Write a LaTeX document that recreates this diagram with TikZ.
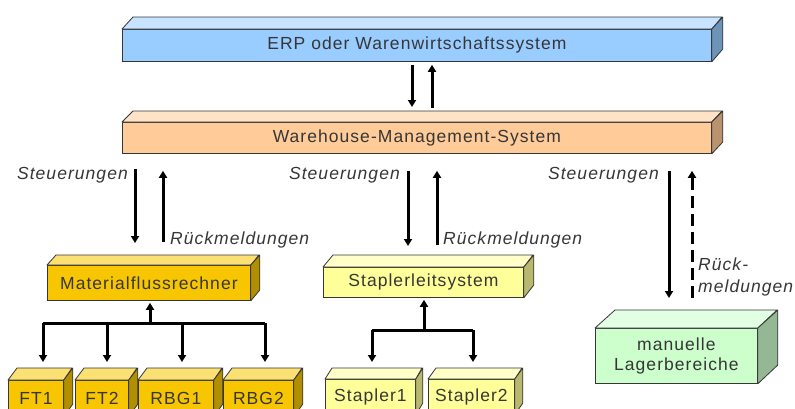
\documentclass[tikz,border=0pt]{standalone}
\usepackage{fontspec}
\setmainfont{Liberation Sans}[LetterSpace=6]
\usetikzlibrary{arrows.meta,calc}

\definecolor{erpblue}{HTML}{99CCFF}
\definecolor{wmsorange}{HTML}{FFCC99}
\definecolor{mfrgold}{HTML}{F7C600}
\definecolor{staplyellow}{HTML}{FFFF99}
\definecolor{mangreen}{HTML}{CCFFCC}
\definecolor{inkgray}{HTML}{363636}

% 3D block: name, front top-left corner, width, height, depth x, depth y, colour, text
\newcommand\blockbox[8]{%
  \node[face, fill=#7, minimum width=#3pt, minimum height=#4pt, anchor=north west] (#1) at (#2) {#8};
  \filldraw[edge, fill=#7!55!white] (#1.north west) -- ++(#5,-#6) -- ++(#3,0) -- (#1.north east) -- cycle;
  \filldraw[edge, fill=#7!72!black] (#1.north east) -- ++(#5,-#6) -- ++(0,#4) -- (#1.south east) -- cycle;
}

\begin{document}
\begin{tikzpicture}[x=1pt,y=-1pt,
  face/.style={draw=inkgray, line width=0.8pt, inner sep=0pt, text=inkgray,
    font=\fontsize{17.5}{20}\selectfont, align=center},
  edge/.style={draw=inkgray, line width=0.8pt, line join=round},
  arr/.style={line width=3pt, -{Triangle[length=7pt,width=8pt]}},
  bus/.style={line width=3pt},
  lbl/.style={font=\fontsize{17.5}{22}\selectfont\itshape, text=inkgray, inner sep=0pt}
]
\useasboundingbox (0,0) rectangle (795,408);
\clip (0,0) rectangle (795,408);

% upper system layers
\blockbox{erp}{122,29}{589}{32}{11}{12}{erpblue}{ERP oder Warenwirtschaftssystem}
\blockbox{wms}{122,122}{589}{31}{11}{11}{wmsorange}{Warehouse-Management-System}

% second level
\blockbox{mfr}{47,265}{203}{35}{9}{10}{mfrgold}{Materialflussrechner}
\blockbox{sls}{323,267}{200}{30}{10}{12}{staplyellow}{Staplerleitsystem}
\blockbox{man}{595,328}{162}{55}{20}{18}{mangreen}{manuelle\\Lagerbereiche}

% conveyors and storage machines
\blockbox{ft1}{8,380}{55}{36}{9}{12}{mfrgold}{FT1}
\blockbox{ft2}{75,380}{53}{36}{9}{12}{mfrgold}{FT2}
\blockbox{rbg1}{138,380}{75}{36}{9}{12}{mfrgold}{RBG1}
\blockbox{rbg2}{223,380}{70}{36}{9}{12}{mfrgold}{RBG2}

% forklifts
\blockbox{st1}{325,379}{90}{35}{7}{11}{staplyellow}{Stapler1}
\blockbox{st2}{428,379}{86}{35}{8}{11}{staplyellow}{Stapler2}

% ERP <-> WMS
\draw[arr, shorten <=3pt, shorten >=15pt] (412,0 |- erp.south) -- (412,0 |- wms.north);
\draw[arr, shorten <=14pt, shorten >=3pt] (432,0 |- wms.north) -- (432,0 |- erp.south);

% WMS -> Materialflussrechner
\draw[arr, shorten <=15pt, shorten >=22pt] (135,0 |- wms.south) -- (135,0 |- mfr.north);
\draw[arr, shorten <=23pt, shorten >=17pt] (163,0 |- mfr.north) -- (163,0 |- wms.south);

% WMS -> Staplerleitsystem
\draw[arr, shorten <=17pt, shorten >=21pt] (408,0 |- wms.south) -- (408,0 |- sls.north);
\draw[arr, shorten <=22pt, shorten >=17pt] (437,0 |- sls.north) -- (437,0 |- wms.south);

% WMS -> manual storage
\draw[arr, shorten <=17pt, shorten >=30pt] (669,0 |- wms.south) -- (669,0 |- man.north);
\draw[arr, dash pattern=on 12pt off 6pt, shorten <=30pt, shorten >=17pt] (692,0 |- man.north) -- (692,0 |- wms.south);

% labels
\node[lbl, anchor=east] (st-a) at (128,175) {Steuerungen};
\node[lbl, anchor=east] (st-b) at (400,175) {Steuerungen};
\node[lbl, anchor=east] (st-c) at (659,175) {Steuerungen};
\node[lbl, anchor=west] (rm-a) at (170,240) {Rückmeldungen};
\node[lbl, anchor=west] (rm-b) at (443,240) {Rückmeldungen};
\node[lbl, anchor=west, align=left] (rm-c) at (698,277) {Rück-\\meldungen};

% Materialflussrechner tree
\coordinate (busa) at (150,323);
\coordinate (busa-l) at (43,323);
\coordinate (busa-r) at (265,323);
\draw[arr, shorten >=2pt] (busa) -- (busa |- mfr.south);
\draw[bus] (busa-l) -- (busa-r);
\foreach \b/\x in {ft1/43, ft2/107, rbg1/182, rbg2/265}
  \draw[arr, shorten >=18pt] (\x,0 |- busa) -- (\x,0 |- \b.north);

% Staplerleitsystem tree
\coordinate (busb) at (424,330);
\coordinate (busb-l) at (372,330);
\coordinate (busb-r) at (473,330);
\draw[arr, shorten >=2pt] (busb) -- (busb |- sls.south);
\draw[bus] (busb-l) -- (busb-r);
\foreach \b/\x in {st1/372, st2/473}
  \draw[arr, shorten >=17pt] (\x,0 |- busb) -- (\x,0 |- \b.north);
\end{tikzpicture}
\end{document}
